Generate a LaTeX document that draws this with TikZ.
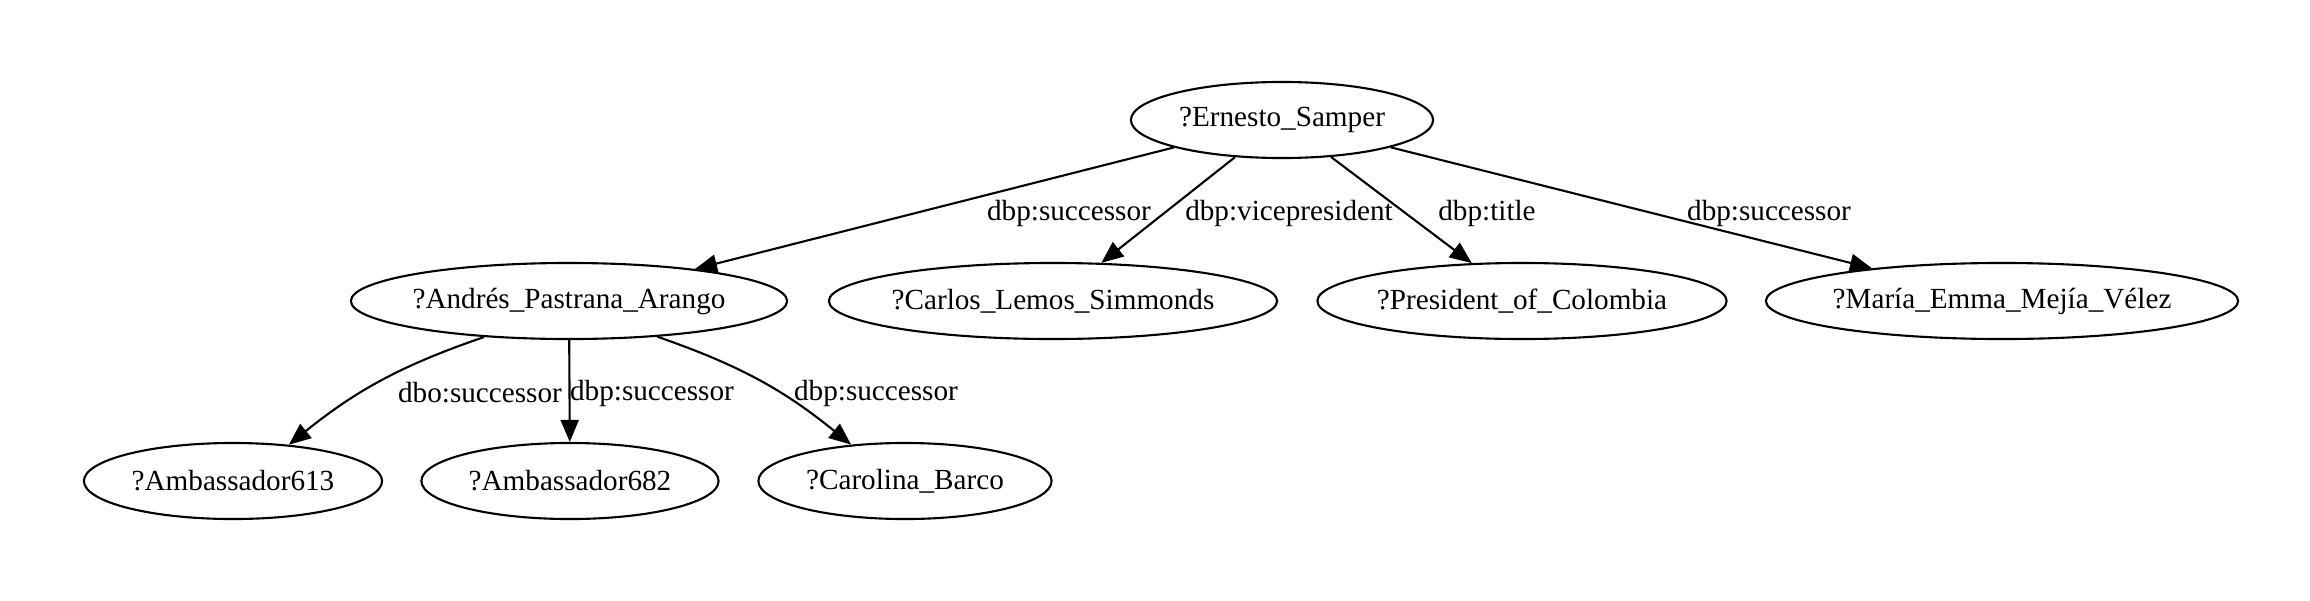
\documentclass[tikz,border=0pt]{standalone}
\usepackage{fontspec}
\setmainfont{Liberation Serif}
\usetikzlibrary{shapes.geometric,arrows.meta}
\begin{document}
\begin{tikzpicture}[x=0.01cm,y=-0.01cm,>={Triangle[length=2.2mm,width=1.8mm]},
    every node/.style={font=\fontsize{8.3}{10}\selectfont},
    qvar/.style={ellipse,draw,line width=0.6pt,inner xsep=-1.5pt,inner ysep=0pt,minimum height=7.6mm,minimum width=#1},
    rel/.style={inner sep=0pt},
    link/.style={->,line width=0.6pt}]
  \useasboundingbox (0,0) rectangle (2310,600);
  % variables
  \node[qvar=3.02cm] (samper) at (1282,120) {?Ernesto\_Samper};
  \node[qvar=4.36cm] (pastrana) at (569,301) {?Andrés\_Pastrana\_Arango};
  \node[qvar=4.48cm] (lemos) at (1053,301) {?Carlos\_Lemos\_Simmonds};
  \node[qvar=4.09cm] (president) at (1522,301) {?President\_of\_Colombia};
  \node[qvar=4.72cm] (mejia) at (2002,301) {?María\_Emma\_Mejía\_Vélez};
  \node[qvar=2.98cm] (amb613) at (233,481) {?Ambassador613};
  \node[qvar=2.97cm] (amb682) at (570,481) {?Ambassador682};
  \node[qvar=2.93cm] (barco) at (905,481) {?Carolina\_Barco};
  % predicates
  \node[rel] (p1) at (1069,213) {dbp:successor};
  \node[rel] (p2) at (1289,213) {dbp:vicepresident};
  \node[rel] (p3) at (1487,213) {dbp:title};
  \node[rel] (p4) at (1769,213) {dbp:successor};
  \node[rel] (p5) at (480,393) {dbo:successor};
  \node[rel] (p6) at (652,393) {dbp:successor};
  \node[rel] (p7) at (876,393) {dbp:successor};
  \draw [link] (samper) -- (pastrana);
  \draw [link] (samper) -- (lemos);
  \draw [link] (samper) -- (president);
  \draw [link] (samper) -- (mejia);
  \draw [link] (pastrana.-157) to[bend right=10] (amb613.33);
  \draw [link] (pastrana) -- (amb682);
  \draw [link] (pastrana.-22) to[bend left=10] (barco.146);
\end{tikzpicture}
\end{document}
